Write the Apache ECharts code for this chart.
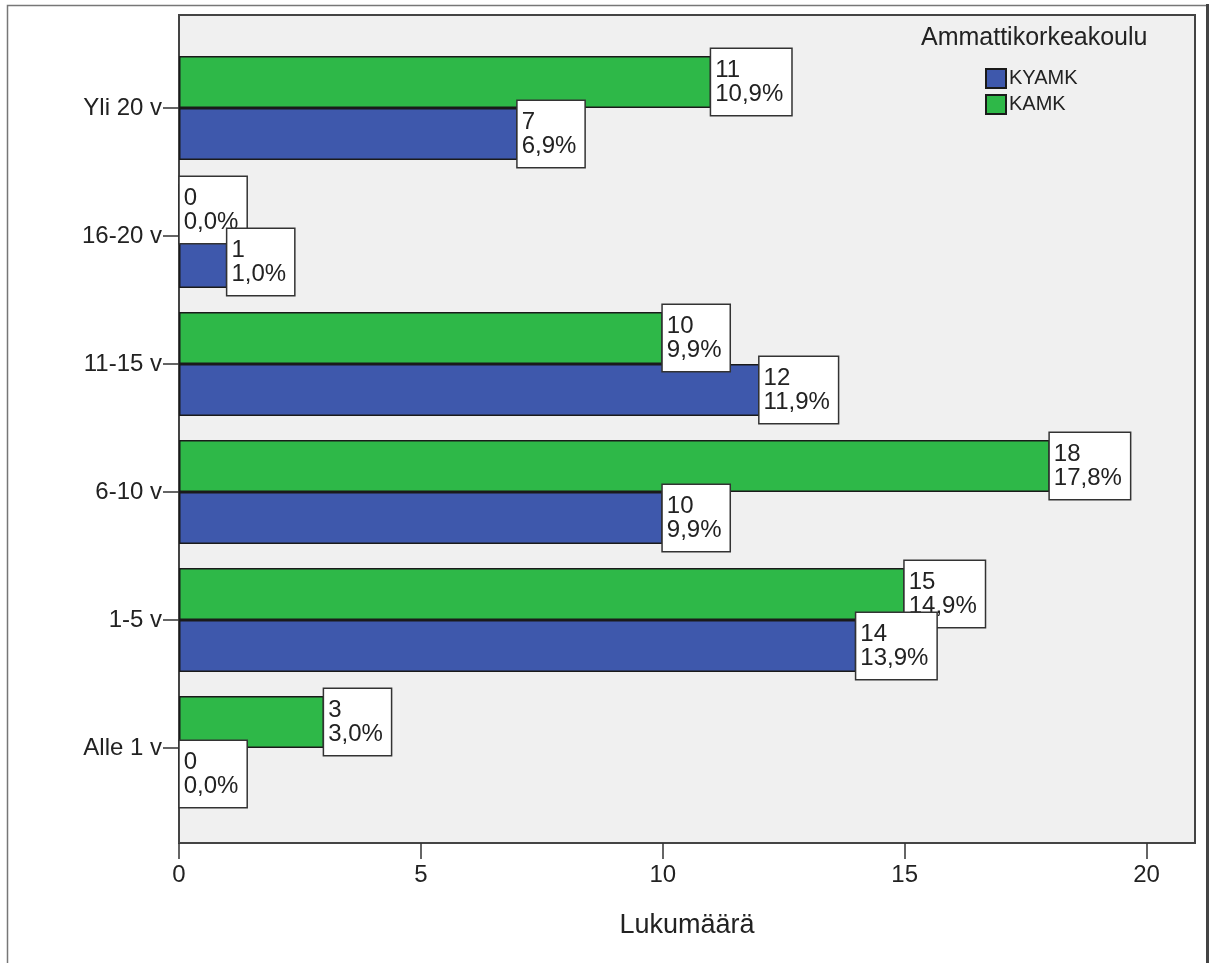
<!DOCTYPE html>
<html>
<head>
<meta charset="utf-8">
<script src="https://cdn.jsdelivr.net/npm/echarts@6/dist/echarts.min.js"></script>
<style>
html,body{margin:0;padding:0;background:#fff;}
#chart{width:1213px;height:963px;}
</style>
</head>
<body>
<div id="chart"></div>
<script>
// Data (top-to-bottom order as in the picture)
const categories = ['Yli 20 v', '16-20 v', '11-15 v', '6-10 v', '1-5 v', 'Alle 1 v'];
const seriesNames = ['KYAMK', 'KAMK'];
const kyamkCounts = [7, 1, 12, 10, 14, 0];
const kyamkPercents = ['6,9%', '1,0%', '11,9%', '9,9%', '13,9%', '0,0%'];
const kamkCounts = [11, 0, 10, 18, 15, 3];
const kamkPercents = ['10,9%', '0,0%', '9,9%', '17,8%', '14,9%', '3,0%'];
const xTicks = [0, 5, 10, 15, 20];
const legendTitle = 'Ammattikorkeakoulu';
const xAxisName = 'Lukumäärä';

const FONT = "'Liberation Sans', Arial, sans-serif";
const TXT = '#222';

const chart = echarts.init(document.getElementById('chart'), null, {renderer: 'canvas'});

function labelCfg(pcts) {
  return {
    show: true,
    position: 'right',
    distance: 0,
    formatter: p => p.value + '\n' + pcts[p.dataIndex],
    fontFamily: FONT,
    fontSize: 24,
    lineHeight: 24,
    color: TXT,
    backgroundColor: '#ffffff',
    borderColor: '#333',
    borderWidth: 1.5,
    padding: [10, 8, 8, 4],
    align: 'left'
  };
}

const option = {
  animation: false,
  backgroundColor: '#ffffff',
  title: {
    text: legendTitle,
    left: 921,
    top: 26,
    padding: 0,
    textStyle: {fontFamily: FONT, fontSize: 25, fontWeight: 'normal', color: TXT}
  },
  legend: {
    data: seriesNames,
    orient: 'vertical',
    left: 985,
    top: 68,
    padding: 0,
    itemWidth: 20,
    itemHeight: 19,
    itemGap: 5,
    icon: 'rect',
    textStyle: {fontFamily: FONT, fontSize: 20, color: TXT, padding: [0, 0, 0, -2]}
  },
  graphic: [
    {
      type: 'rect', z: -10, silent: true,
      shape: {x: 179, y: 15, width: 1016, height: 828},
      style: {fill: '#f0f0f0', stroke: '#444', lineWidth: 2}
    },
    {
      type: 'polyline', z: -10, silent: true,
      shape: {points: [[7.5, 963], [7.5, 5.5], [1207, 5.5]]},
      style: {stroke: '#777', lineWidth: 1.5, fill: null}
    },
    {
      type: 'line', z: -10, silent: true,
      shape: {x1: 1207.5, y1: 4, x2: 1207.5, y2: 963},
      style: {stroke: '#444', lineWidth: 3}
    }
  ],
  grid: {left: 179, right: 18, top: 44, bottom: 151, containLabel: false},
  xAxis: {
    type: 'value',
    min: xTicks[0],
    max: 21,
    interval: 5,
    offset: 31,
    name: xAxisName,
    nameLocation: 'middle',
    nameGap: 69,
    nameTextStyle: {fontFamily: FONT, fontSize: 27, color: TXT},
    axisLine: {show: false},
    axisTick: {show: true, length: 16, customValues: xTicks, lineStyle: {color: '#333', width: 1.5}},
    axisLabel: {
      fontFamily: FONT, fontSize: 24, color: TXT, margin: 20,
      customValues: xTicks,
      formatter: v => String(v)
    },
    splitLine: {show: false}
  },
  yAxis: {
    type: 'category',
    inverse: true,
    data: categories,
    axisLine: {show: false},
    axisTick: {show: true, alignWithLabel: true, length: 16, lineStyle: {color: '#333', width: 1.5}},
    axisLabel: {fontFamily: FONT, fontSize: 24, color: TXT, margin: 17},
    splitLine: {show: false}
  },
  series: [
    {
      name: seriesNames[1],
      type: 'bar',
      data: kamkCounts,
      barGap: '0%',
      barCategoryGap: '18.75%',
      itemStyle: {color: '#2EB848', borderColor: '#1a1a1a', borderWidth: 1.5},
      label: labelCfg(kamkPercents)
    },
    {
      name: seriesNames[0],
      type: 'bar',
      data: kyamkCounts,
      barGap: '0%',
      barCategoryGap: '18.75%',
      itemStyle: {color: '#3E58AC', borderColor: '#1a1a1a', borderWidth: 1.5},
      label: labelCfg(kyamkPercents)
    }
  ]
};

chart.setOption(option);
</script>
</body>
</html>
